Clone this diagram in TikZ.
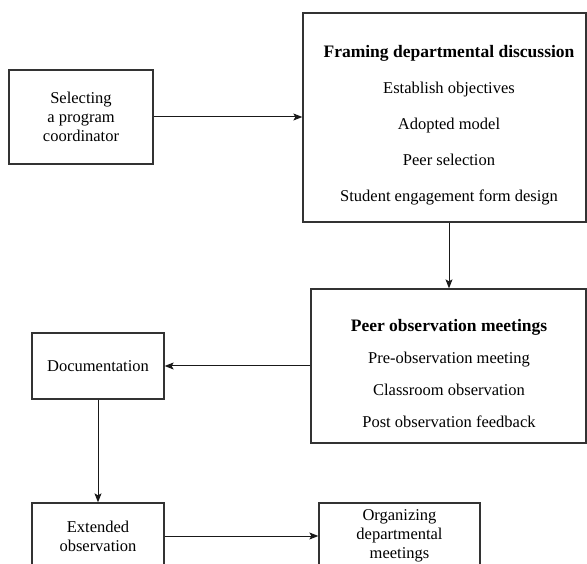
\documentclass[tikz,border=0pt]{standalone}
\usepackage{fontspec}
\setmainfont{Liberation Serif}
\usetikzlibrary{arrows.meta,positioning}
\tikzset{>={Stealth[length=9pt,width=7pt,inset=2pt]}}
\def\ux{1pt}
\def\uy{-1pt}
\tikzset{
     box/.style={draw=black!80, line width=1.3pt, rectangle, align=center,
                 inner sep=0pt, font=\fontsize{16.5}{19}\selectfont},
     list/.style={align=center, inner sep=0pt, font=\fontsize{16.5}{#1}\selectfont},
     flow/.style={->, line width=1pt, black!90},
}
\newcommand{\hd}[1]{\textbf{\fontsize{17.5}{20}\selectfont #1}}

\begin{document}
\begin{tikzpicture}[x=\ux,y=\uy]
		\useasboundingbox (0,0) rectangle (587,564);

		\node[box, minimum width=144, minimum height=94] (sel) at (81,117)
			{Selecting\\a program\\coordinator};
		\node[box, minimum width=283, minimum height=209] (fram) at (444.5,117.5) {};
		\node[list=36] (framtxt) at (449,125) {\hd{Framing departmental discussion}\\
			Establish objectives\\Adopted model\\Peer selection\\Student engagement form design};
		\node[box, minimum width=275, minimum height=154] (peer) at (448.5,366) {};
		\node[list=32.3] (peertxt) at (449,373.5) {\hd{Peer observation meetings}\\
			Pre-observation meeting\\Classroom observation\\Post observation feedback};
		\node[box, minimum width=132, minimum height=66] (doc) at (98,366) {Documentation};
		\node[box, minimum width=132, minimum height=66] (ext) at (98,536)
			{Extended\\observation};
		\node[box, minimum width=161, minimum height=66] (org) at (399.5,536)
			{Organizing\\departmental\\meetings};

		\draw[flow] (sel.east) -- (sel.east -| fram.west);
		\draw[flow] (framtxt |- fram.south) -- (framtxt |- peer.north);
		\draw[flow] (peer.west) -- (doc.east);
		\draw[flow] (doc) -- (ext);
		\draw[flow] (ext) -- (org);
\end{tikzpicture}
\end{document}
